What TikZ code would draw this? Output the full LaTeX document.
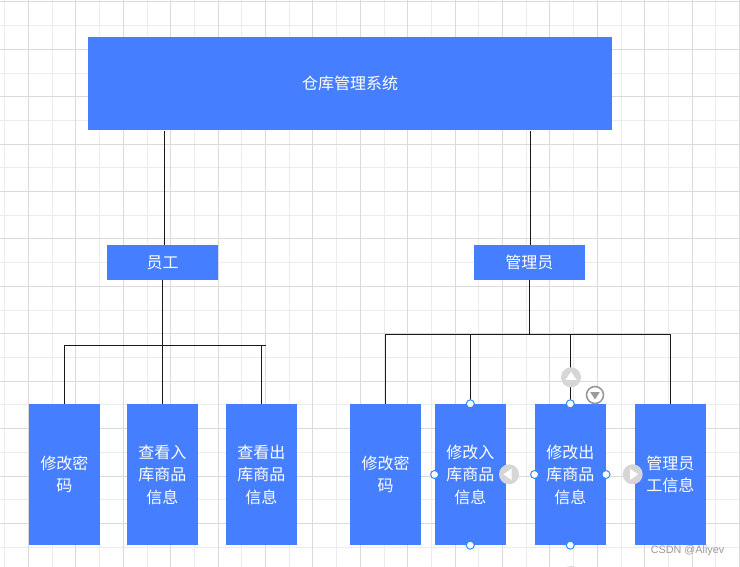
\documentclass[tikz,border=0pt]{standalone}
\usepackage{fontspec}
\usetikzlibrary{calc}
\newfontfamily\cjk{Noto Sans CJK SC}
\newfontfamily\wm{Liberation Sans}
\definecolor{boxblue}{HTML}{457EFF}
\definecolor{gridd}{HTML}{DADADA}
\definecolor{gridl}{HTML}{ECECEC}
\definecolor{hblue}{HTML}{2A8BFF}
\definecolor{hgray}{HTML}{D6D6D6}
\definecolor{hdark}{HTML}{9A9A9A}
\begin{document}
\begin{tikzpicture}[x=1pt,y=-1pt,
  box/.style={fill=boxblue,draw=none,inner sep=0pt,text=white,align=center,
    font=\cjk\fontsize{16}{22.5}\selectfont},
  leaf/.style={box,minimum width=71pt,minimum height=141pt},
  mid/.style={box,minimum width=111pt,minimum height=35pt},
  conn/.style={draw=black!90,line width=1.3pt},
  handle/.style={circle,draw=hblue,fill=white,line width=1pt,inner sep=0pt,minimum size=8pt},
  garrow/.style={circle,fill=hgray,draw=none,inner sep=0pt,minimum size=20pt},
  tri/.style={fill=white,draw=none}
]
\useasboundingbox (0,0) rectangle (740,567);
\fill[white] (0,0) rectangle (740,567);
% grid
\foreach \k in {0,...,15} {
  \draw[gridl,line width=1pt] ({4.8+47.4*\k},0) -- ({4.8+47.4*\k},567);
}
\foreach \k in {0,...,11} {
  \draw[gridl,line width=1pt] (0,{25.7+47.4*\k}) -- (740,{25.7+47.4*\k});
}
\foreach \k in {0,...,15} {
  \draw[gridd,line width=1pt] ({28.5+47.4*\k},0) -- ({28.5+47.4*\k},567);
}
\foreach \k in {0,...,11} {
  \draw[gridd,line width=1pt] (0,{2+47.4*\k}) -- (740,{2+47.4*\k});
}
% nodes
\node[box,minimum width=524pt,minimum height=93.5pt] (top) at (350,83.7) {仓库管理系统};
\node[mid] (yg) at (162.5,262.5) {员工};
\node[mid] (gly) at (529.3,262.5) {管理员};
\node[leaf] (b1) at (64.5,474.5) {修改密\\码};
\node[leaf] (b2) at (162.3,474.5) {查看入\\库商品\\信息};
\node[leaf] (b3) at (261.3,474.5) {查看出\\库商品\\信息};
\node[leaf] (b4) at (385.5,474.5) {修改密\\码};
\node[leaf] (b5) at (470.3,474.5) {修改入\\库商品\\信息};
\node[leaf] (b6) at (570.3,474.5) {修改出\\库商品\\信息};
\node[leaf] (b7) at (670.3,474.5) {管理员\\工信息};
% junctions
\coordinate (tl) at (164.5,0);
\coordinate (tr) at (530.5,0);
\coordinate (jl) at (162.3,345.3);
\coordinate (jlend) at (265.7,345.3);
\coordinate (jr) at (529.3,334.3);
% connectors
\draw[conn] (top.south -| tl) -- (yg.north -| tl);
\draw[conn] (top.south -| tr) -- (gly.north -| tr);
\draw[conn] (yg.south -| jl) -- (jl);
\draw[conn] (b1.north |- jl) -- (jlend);
\draw[conn] (b1.north) -- (b1.north |- jl);
\draw[conn] (b2.north) -- (jl);
\draw[conn] (b3.north) -- (b3.north |- jl);
\draw[conn] (gly.south) -- (jr);
\draw[conn] (b4.north |- jr) -- (b7.north |- jr);
\draw[conn] (b4.north) -- (b4.north |- jr);
\draw[conn] (b5.north) -- (b5.north |- jr);
\draw[conn] (b6.north) -- (b6.north |- jr);
\draw[conn] (b7.north) -- (b7.north |- jr);
% selection handles
\node[handle] (h1) at (b5.north) {};
\node[handle] (h2) at (b5.west) {};
\node[handle] (h3) at (b5.south) {};
\node[handle] (h4) at (b6.north) {};
\node[handle] (h5) at (b6.west) {};
\node[handle] (h6) at (b6.east) {};
\node[handle] (h7) at (b6.south) {};
\node[garrow] (gl) at (509,474.3) {};
\fill[tri] ($(gl.center)+(-5.5,0)$) -- ++(8,-5.5) -- ++(0,11) -- cycle;
\node[garrow] (gr) at (632.7,474.3) {};
\fill[tri] ($(gr.center)+(5.5,0)$) -- ++(-8,-5.5) -- ++(0,11) -- cycle;
\node[garrow] (gu) at (571,377.3) {};
\fill[tri] ($(gu.center)+(0,-5.5)$) -- ++(-5.5,8) -- ++(11,0) -- cycle;
\node[garrow] (gb) at (571,576) {};
\node[circle,draw=hdark,fill=white,line width=1.6pt,inner sep=0pt,minimum size=17pt] (gd) at (595,395) {};
\fill[hdark] ($(gd.center)+(0,4.5)$) -- ++(-4.8,-7.5) -- ++(9.6,0) -- cycle;
% watermark
\node[text=hdark,font=\wm\fontsize{10.8}{12}\selectfont,inner sep=0pt,anchor=west] (wmk) at (650.7,551) {CSDN @Aliyev};
\end{tikzpicture}
\end{document}
